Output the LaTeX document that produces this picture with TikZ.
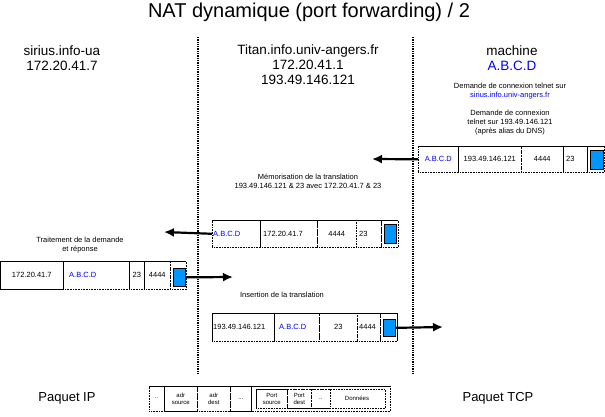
\documentclass[tikz,border=0pt]{standalone}
\usepackage{fontspec}
\setmainfont{Liberation Sans}
\usetikzlibrary{arrows.meta}
\definecolor{ipblue}{RGB}{0,0,255}
\definecolor{tcpfill}{RGB}{0,150,255}
\tikzset{
  sep/.style={densely dotted, line width=1.3pt},
  cell/.style={draw, densely dotted, line width=0.6pt, inner sep=0pt, anchor=north west},
  firstcell/.style={draw, line width=0.6pt, inner sep=0pt, anchor=north west},
  txt/.style={font=\fontsize{7.5}{8}\selectfont, inner sep=0pt},
  small/.style={font=\fontsize{7.5}{9}\selectfont, align=center, inner sep=0pt},
  head/.style={font=\fontsize{13.5}{15}\selectfont, align=center, inner sep=0pt},
  tcp/.style={draw=black, fill=tcpfill, line width=0.7pt, inner sep=0pt, anchor=north west},
  flow/.style={line width=2.2pt, -{Latex[length=10pt,width=9pt]}},
  blu/.style={text=ipblue}
}
\begin{document}
\begin{tikzpicture}[x=1pt,y=-1pt]
\useasboundingbox (0,0) rectangle (605,417);
\fill[white] (0,0) rectangle (605,417);

% title
\node[font=\fontsize{20}{24}\selectfont, inner sep=0pt] (title) at (309,12) {NAT dynamique (port forwarding) / 2};

% separators
\coordinate (s1t) at (198,37); \coordinate (s1b) at (198,375);
\coordinate (s2t) at (413,37); \coordinate (s2b) at (413,375);
\draw[sep] (s1t) -- (s1b);
\draw[sep] (s2t) -- (s2b);

% headers
\node[head] (hl) at (62,58) {sirius.info-ua\\172.20.41.7};
\node[head] (hm) at (308,65) {Titan.info.univ-angers.fr\\172.20.41.1\\193.49.146.121};
\node[head] (hr) at (512,58) {machine\\\textcolor{ipblue}{A.B.C.D}};

\node[small] (n1) at (510,91) {Demande de connexion telnet sur\\\textcolor{ipblue}{sirius.info.univ-angers.fr}};
\node[small] (n2) at (510,123) {Demande de connexion\\telnet sur 193.49.146.121\\(après alias du DNS)};

% packet 1
\draw[line width=0.6pt] (418,146) -- (604,146);
\node[cell, minimum width=40pt, minimum height=26pt] (p1a) at (418,146) {};
\node[firstcell, minimum width=0pt, minimum height=26pt] (p1l) at (458,146) {};
\node[cell, minimum width=63pt, minimum height=26pt] (p1b) at (458,146) {};
\node[cell, minimum width=42pt, minimum height=26pt] (p1c) at (521,146) {};
\node[cell, minimum width=24pt, minimum height=26pt] (p1d) at (563,146) {};
\node[cell, minimum width=17pt, minimum height=26pt] (p1e) at (587,146) {};
\node[tcp, minimum width=13pt, minimum height=19pt] (p1t) at (590,150) {};
\node[txt, blu] at (p1a) {A.B.C.D};
\node[txt] at (p1b) {193.49.146.121};
\node[txt] at (p1c) {4444};
\node[txt, anchor=west] at ([xshift=3pt]p1d.west) {23};
\coordinate (a1e) at (372,159);
\draw[flow] (p1a.west) -- (a1e);

% packet 2
\node[small] (n3) at (308,181) {Mémorisation de la translation\\193.49.146.121 \& 23 avec 172.20.41.7 \& 23};
\draw[line width=0.6pt] (212,220) -- (398,220);
\node[cell, minimum width=48pt, minimum height=27pt] (p2a) at (212,220) {};
\node[firstcell, minimum width=0pt, minimum height=27pt] (p2l) at (260,220) {};
\node[cell, minimum width=57pt, minimum height=27pt] (p2b) at (260,220) {};
\node[cell, minimum width=39pt, minimum height=27pt] (p2c) at (317,220) {};
\node[cell, minimum width=25pt, minimum height=27pt] (p2d) at (356,220) {};
\node[cell, minimum width=17pt, minimum height=27pt] (p2e) at (381,220) {};
\node[tcp, minimum width=12pt, minimum height=19pt] (p2t) at (384,224) {};
\node[txt, blu, anchor=west] at ([xshift=1pt]p2a.west) {A.B.C.D};
\node[txt, anchor=west] at ([xshift=3pt]p2b.west) {172.20.41.7};
\node[txt] at (p2c) {4444};
\node[txt, anchor=west] at ([xshift=3pt]p2d.west) {23};
\coordinate (a2e) at (164,232);
\draw[flow] (p2a.west) -- (a2e);

% packet 3
\node[small] (n4) at (80,245) {Traitement de la demande\\et réponse};
\draw[line width=0.6pt] (0,261) -- (186,261);
\node[firstcell, minimum width=63pt, minimum height=28pt] (p3a) at (0,261) {};
\node[cell, minimum width=66pt, minimum height=28pt] (p3b) at (63,261) {};
\node[cell, minimum width=15pt, minimum height=28pt] (p3c) at (129,261) {};
\node[cell, minimum width=26pt, minimum height=28pt] (p3d) at (144,261) {};
\node[cell, minimum width=16pt, minimum height=28pt] (p3e) at (170,261) {};
\node[tcp, minimum width=12pt, minimum height=18pt] (p3t) at (173,268) {};
\node[txt] at (p3a) {172.20.41.7};
\node[txt, blu, anchor=west] at ([xshift=6pt]p3b.west) {A.B.C.D};
\node[txt] at (p3c) {23};
\node[txt] at (p3d) {4444};
\coordinate (a3e) at (233,277);
\draw[flow] (p3t.east) -- (a3e);

% packet 4
\node[small] (n5) at (282,295) {Insertion de la translation};
\draw[line width=0.6pt] (212,313) -- (397,313);
\node[cell, minimum width=62pt, minimum height=28pt] (p4a) at (212,313) {};
\node[firstcell, minimum width=0pt, minimum height=28pt] (p4l) at (212,313) {};
\node[cell, minimum width=45pt, minimum height=28pt] (p4b) at (274,313) {};
\node[cell, minimum width=38pt, minimum height=28pt] (p4c) at (319,313) {};
\node[cell, minimum width=23pt, minimum height=28pt] (p4d) at (357,313) {};
\node[cell, minimum width=17pt, minimum height=28pt] (p4e) at (380,313) {};
\draw[line width=0.6pt] (397,313) -- (397,341);
\node[tcp, minimum width=12pt, minimum height=17pt] (p4t) at (383,319) {};
\node[txt, anchor=west] at ([xshift=1pt]p4a.west) {193.49.146.121};
\node[txt, blu, anchor=west] at ([xshift=5pt]p4b.west) {A.B.C.D};
\node[txt] at (p4c) {23};
\node[txt, anchor=west] at ([xshift=2pt]p4d.west) {4444};
\coordinate (a4e) at (443,327);
\draw[flow] (p4t.east) -- (a4e);

% legend
\node[head, font=\fontsize{13}{15}\selectfont] (lip) at (67,398) {Paquet IP};
\node[head, font=\fontsize{13}{15}\selectfont] (ltcp) at (498,398) {Paquet TCP};
\draw[line width=0.6pt] (149,386) -- (390,386);
\node[cell, minimum width=241pt, minimum height=25pt] (lg) at (149,386) {};
\draw[line width=0.6pt] (164,386) -- (164,411);
\draw[line width=0.6pt] (251,386) -- (251,411);
\node[cell, minimum width=33pt, minimum height=25pt] (lg2) at (164,386) {};
\node[cell, minimum width=33pt, minimum height=25pt] (lg3) at (197,386) {};
\node[cell, minimum width=21pt, minimum height=25pt] (lg4) at (230,386) {};
\node[cell, minimum width=129pt, minimum height=19pt] (lt) at (256,389) {};
\node[cell, minimum width=31pt, minimum height=19pt] (lt1) at (256,389) {};
\node[cell, minimum width=24pt, minimum height=19pt] (lt2) at (287,389) {};
\node[cell, minimum width=19pt, minimum height=19pt] (lt3) at (311,389) {};
\tikzset{lt/.style={font=\fontsize{6}{7}\selectfont, align=center, inner sep=0pt}}
\node[lt] at (156.5,398.5) {..};
\node[lt] at (lg2) {adr\\source};
\node[lt] at (lg3) {adr\\dest};
\node[lt] at (lg4) {...};
\node[lt] at (lt1) {Port\\source};
\node[lt] at (lt2) {Port\\dest};
\node[lt] at (lt3) {..};
\node[lt] at (357,398.5) {Données};
\end{tikzpicture}
\end{document}
